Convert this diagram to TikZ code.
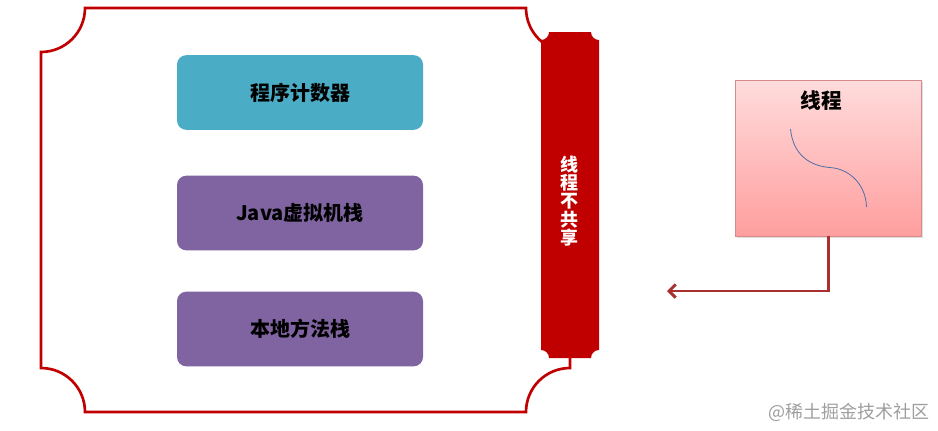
\documentclass[tikz,border=0pt]{standalone}
\usepackage{fontspec}
\newfontfamily\cjk{Noto Sans CJK SC}
\usetikzlibrary{arrows.meta,shadows}
\definecolor{frred}{HTML}{C00000}
\definecolor{pcteal}{HTML}{4BACC6}
\definecolor{stpurple}{HTML}{8064A2}
\definecolor{arrred}{HTML}{A8302E}
\definecolor{thtop}{HTML}{FFDCDC}
\definecolor{thbot}{HTML}{FF9E9E}
\definecolor{thborder}{HTML}{D88A8A}
\definecolor{curveblue}{HTML}{4F6FA8}
\tikzset{
  frame/.style={draw=frred, line width=2pt},
  bar/.style={fill=frred, draw=none},
  memblock/.style={rounded corners=7pt, minimum width=184.5pt, minimum height=56pt, draw=none, font=\cjk\bfseries\fontsize{15}{17}\selectfont, text=black},
  threadbox/.style={draw=thborder, line width=0.6pt, top color=thtop, bottom color=thbot, minimum width=140pt, minimum height=117pt, drop shadow={shadow xshift=1.2pt, shadow yshift=-1.2pt, opacity=0.25}},
  link/.style={draw=arrred, line width=1.9pt, -{Straight Barb[length=5pt,width=10pt,line width=2.2pt]}},
}
\begin{document}
\begin{tikzpicture}[x=0.75pt,y=-0.75pt]
\useasboundingbox (0,0) rectangle (938,430);
% outer frame with concave corners
\draw[frame] (85,8) -- (526,8) arc[start angle=180,end angle=90,radius=44]
  -- (570,368) arc[start angle=270,end angle=180,radius=44]
  -- (85,412) arc[start angle=0,end angle=-90,radius=44]
  -- (41,52) arc[start angle=90,end angle=0,radius=44] -- cycle;
% vertical bar
\fill[bar] (549,32) -- (591,32) arc[start angle=180,end angle=90,radius=8]
  -- (599,350) arc[start angle=270,end angle=180,radius=8]
  -- (549,358) arc[start angle=0,end angle=-90,radius=8]
  -- (541,40) arc[start angle=90,end angle=0,radius=8] -- cycle;
\node[text=white, font=\cjk\bfseries\fontsize{13.5}{13.8}\selectfont, align=center] (share) at (569,201) {线\\程\\不\\共\\享};
% memory blocks
\node[memblock, fill=pcteal] (pc) at (300,92.5) {程序计数器};
\node[memblock, fill=stpurple] (jvm) at (300,213) {Java虚拟机栈};
\node[memblock, fill=stpurple] (native) at (300,329) {本地方法栈};
% thread box
\node[threadbox] (thread) at (828.5,158) {};
\node[font=\cjk\bfseries\fontsize{15.5}{17}\selectfont] (tlabel) at (821,101) {线程};
\draw[curveblue, line width=0.6pt] (790.5,129) .. controls (793,155) and (810,166) .. (830,167.5) .. controls (851,169) and (866,186) .. (866.5,207);
% arrow
\coordinate (target) at (667,291);
\draw[link] (thread.south) |- (target);
% watermark
\node[anchor=east, text=black!38, font=\cjk\fontsize{13.5}{15}\selectfont] (wm) at (934,412) {@稀土掘金技术社区};
\end{tikzpicture}
\end{document}
